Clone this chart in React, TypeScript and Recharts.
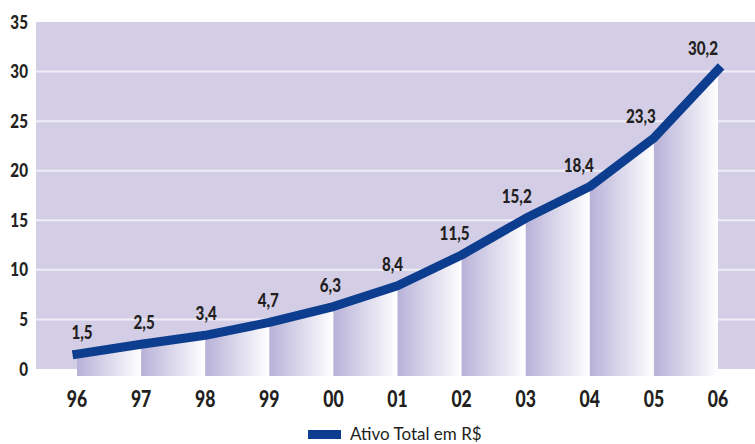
import React from 'react';
import { ComposedChart, Area, Line, XAxis, YAxis, CartesianGrid, LabelList } from 'recharts';

// Ativo total (R$ bilhões) por ano
const anos = ['96', '97', '98', '99', '00', '01', '02', '03', '04', '05', '06'];
const ativoTotal = [1.5, 2.5, 3.4, 4.7, 6.3, 8.4, 11.5, 15.2, 18.4, 23.3, 30.2];
const yTicks = [0, 5, 10, 15, 20, 25, 30, 35];
const gridValues = [5, 10, 15, 20, 25, 30];

const data = anos.map((ano, i) => ({ ano, valor: ativoTotal[i] }));

const W = 755;
const H = 444;
const Y_AXIS_W = 36;
const PAD_L = 41;
const PAD_R = 37;
// largura de cada faixa degradê = distância entre dois anos
const firstX = Y_AXIS_W + PAD_L;
const step = (W - Y_AXIS_W - PAD_L - PAD_R) / (anos.length - 1);

const BOLD = 'Lato, sans-serif';
const TXT = '#231f20';
const AZUL = '#0d3d8e';
const SQUEEZE = 0.8; // fonte condensada aproximada

const fmt = (v: number) => v.toFixed(1).replace('.', ',');

// texto negrito "condensado" (escala horizontal)
function Narrow({ x, y, size, anchor, children }: any) {
  return (
    <g transform={`translate(${x},${y}) scale(${SQUEEZE},1)`}>
      <text x={0} y={0} textAnchor={anchor} fontFamily={BOLD} fontWeight={900} fontSize={size} fill={TXT}>
        {children}
      </text>
    </g>
  );
}

function ValueLabel(props: any) {
  const { x, y, value, index } = props;
  const dx = Math.max(5 - 2 * index, -15);
  return (
    <Narrow x={x + dx} y={y - 15} size={19} anchor="middle">
      {fmt(value)}
    </Narrow>
  );
}

function XTick(props: any) {
  const { x, y, payload } = props;
  return (
    <Narrow x={x} y={y + 15} size={22} anchor="middle">
      {payload.value}
    </Narrow>
  );
}

function YTick(props: any) {
  const { x, y, payload } = props;
  return (
    <Narrow x={x} y={y + 6.5} size={19} anchor="end">
      {payload.value}
    </Narrow>
  );
}

export default function App() {
  return (
    <div style={{ position: 'absolute', left: 0, top: 0, width: W, height: H, background: '#fff' }}>
      <ComposedChart width={W} height={H} data={data} margin={{ top: 22, right: 0, left: 0, bottom: 40 }}>
        <defs>
          <linearGradient id="faixa" x1="0" y1="0" x2="1" y2="0">
            <stop offset="0%" stopColor="#b8b1d8" />
            <stop offset="100%" stopColor="#ffffff" />
          </linearGradient>
          <pattern id="faixas" patternUnits="userSpaceOnUse" x={firstX} y={0} width={step} height={H}>
            <rect x={0} y={0} width={step} height={H} fill="url(#faixa)" />
          </pattern>
        </defs>
        <CartesianGrid
          vertical={false}
          fill="#d3cee6"
          fillOpacity={1}
          stroke="#efeef8"
          strokeWidth={2}
          horizontalValues={gridValues}
        />
        <XAxis
          dataKey="ano"
          axisLine={false}
          tickLine={false}
          height={35}
          tickMargin={17}
          padding={{ left: PAD_L, right: PAD_R }}
          interval={0}
          tick={<XTick />}
        />
        <YAxis
          domain={[0, 35]}
          ticks={yTicks}
          width={Y_AXIS_W}
          axisLine={false}
          tickLine={false}
          tickMargin={2}
          tick={<YTick />}
        />
        <Area
          type="linear"
          dataKey="valor"
          baseValue={-0.7}
          stroke="none"
          fill="url(#faixas)"
          fillOpacity={1}
          isAnimationActive={false}
        />
        <Line
          type="linear"
          dataKey="valor"
          stroke={AZUL}
          strokeWidth={9}
          strokeLinecap="square"
          strokeLinejoin="round"
          dot={false}
          activeDot={false}
          isAnimationActive={false}
        >
          <LabelList dataKey="valor" content={ValueLabel} />
        </Line>
      </ComposedChart>
      <div
        style={{
          position: 'absolute',
          left: 308,
          top: 425,
          display: 'flex',
          alignItems: 'center',
          fontFamily: 'Lato, sans-serif',
          fontSize: 17,
          color: TXT,
          whiteSpace: 'nowrap',
          lineHeight: '18px',
        }}
      >
        <span style={{ display: 'inline-block', width: 33, height: 9, background: AZUL, marginRight: 9 }} />
        Ativo Total em R$
      </div>
    </div>
  );
}
